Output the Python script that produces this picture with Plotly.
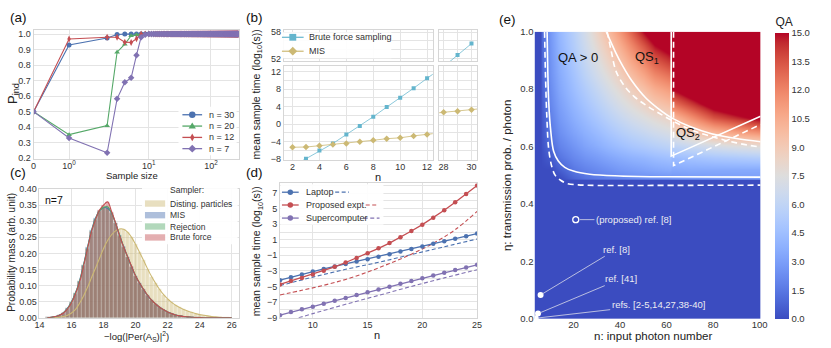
import math
import plotly.graph_objects as go

W, H = 831, 348
FONT = "Liberation Sans, Arial, sans-serif"
TXT = "#333333"
GRID = "#e4e4e4"
EDGE = "#d6d6d6"

# ---------------- (a) data ----------------
a_sizes_head = [0, 1, 3, 4, 5, 6, 7, 8, 9]
a_plateau_sizes = list(range(10, 281))
a_plateau_p = 1.0
a_p30 = [0.50, 0.93, 0.975, 0.997, 1.0, 1.0, 1.0, 1.0, 1.0]
a_p20 = [0.50, 0.352, 0.41, 0.883, 0.935, 0.99, 0.995, 1.0, 1.0]
a_p12 = [0.50, 0.968, 0.98, 0.98, 0.948, 0.946, 0.97, 1.0, 1.0]
a_p7 = [0.50, 0.33, 0.235, 0.583, 0.69, 0.718, 0.864, 0.98, 0.995]
a_names = ["n = 30", "n = 20", "n = 12", "n = 7"]
a_xticks = [0, 1, 10, 100]
a_xticktext = ["0", "10<sup>0</sup>", "10<sup>1</sup>", "10<sup>2</sup>"]
a_yticks = [0.2, 0.3, 0.4, 0.5, 0.6, 0.7, 0.8, 0.9, 1.0]

# ---------------- (b) data ----------------
b_bf_n = [3, 4, 5, 6, 7, 8, 9, 10, 11, 12]
b_bf_t = [-7.85, -6.0, -4.4, -2.35, -0.4, 1.7, 3.9, 6.0, 8.2, 10.45]
b_bf_fit_n = [2.4, 3, 4, 5, 6, 7, 8, 9, 10, 11, 12, 12.5]
b_bf_fit_t = [-8.9, -7.85, -6.0, -4.4, -2.35, -0.4, 1.7, 3.9, 6.0, 8.2, 10.45, 11.55]
b_mis_n = [2, 3, 4, 5, 6, 7, 8, 9, 10, 11, 12]
b_mis_t = [-5.25, -5.2, -4.9, -4.6, -4.4, -4.0, -3.66, -3.3, -3.1, -2.66, -2.37]
b_mis_fit_n = [2, 3, 4, 5, 6, 7, 8, 9, 10, 11, 12, 12.45]
b_mis_fit_t = [-5.25, -5.2, -4.9, -4.6, -4.4, -4.0, -3.66, -3.3, -3.1, -2.66, -2.37, -2.15]
b_bf_r_n = [29, 30]
b_bf_r_t = [52.8, 55.4]
b_bf_r_fit_n = [28.4, 29, 30]
b_bf_r_fit_t = [51.2, 52.8, 55.4]
b_mis_r_n = [28, 29, 30]
b_mis_r_t = [2.7, 2.95, 3.3]
b_mis_r_fit_n = [27.65, 28, 29, 30, 30.4]
b_mis_r_fit_t = [2.6, 2.7, 2.95, 3.3, 3.45]

# ---------------- (c) data ----------------
c_bin_start = 14.5
c_bin_width = 0.25
c_disting = [0.0, 0.0, 0.001, 0.002, 0.004, 0.008, 0.015, 0.026, 0.045, 0.068, 0.095, 0.125,
             0.155, 0.185, 0.215, 0.240, 0.258, 0.270, 0.276, 0.275, 0.266, 0.250, 0.228, 0.203,
             0.178, 0.152, 0.128, 0.107, 0.088, 0.072, 0.059, 0.048, 0.039, 0.032, 0.026, 0.021,
             0.017, 0.013, 0.010, 0.008, 0.006, 0.004, 0.003, 0.002, 0.001, 0.001, 0.0]
c_mis = [0.001, 0.002, 0.004, 0.009, 0.016, 0.030, 0.050, 0.078, 0.115, 0.165, 0.220, 0.272,
         0.310, 0.333, 0.342, 0.340, 0.325, 0.293, 0.256, 0.222, 0.190, 0.158, 0.130, 0.107,
         0.087, 0.069, 0.055, 0.043, 0.033, 0.025, 0.018, 0.013, 0.009, 0.006, 0.004, 0.003,
         0.002, 0.001, 0.001, 0.0, 0.0, 0.0, 0.0, 0.0, 0.0, 0.0, 0.0]
c_rejection = [0.001, 0.002, 0.004, 0.008, 0.016, 0.029, 0.049, 0.077, 0.113, 0.163, 0.218, 0.270,
               0.308, 0.333, 0.343, 0.345, 0.326, 0.294, 0.257, 0.221, 0.189, 0.159, 0.131, 0.108,
               0.088, 0.070, 0.055, 0.043, 0.033, 0.025, 0.018, 0.013, 0.009, 0.006, 0.004, 0.003,
               0.002, 0.001, 0.001, 0.0, 0.0, 0.0, 0.0, 0.0, 0.0, 0.0, 0.0]
c_brute = [0.001, 0.002, 0.004, 0.008, 0.015, 0.028, 0.047, 0.075, 0.110, 0.160, 0.215, 0.268,
           0.305, 0.335, 0.350, 0.360, 0.330, 0.295, 0.255, 0.220, 0.190, 0.160, 0.130, 0.108,
           0.088, 0.070, 0.055, 0.043, 0.033, 0.025, 0.018, 0.013, 0.009, 0.006, 0.004, 0.003,
           0.002, 0.001, 0.001, 0.0, 0.0, 0.0, 0.0, 0.0, 0.0, 0.0, 0.0]
c_bins = [c_bin_start + c_bin_width * i for i in range(len(c_brute))]
c_names = ["Disting. particles", "MIS", "Rejection", "Brute force"]

# ---------------- (d) data ----------------
d_n = list(range(7, 26))
d_laptop = [-4.2, -3.82, -3.45, -3.08, -2.75, -2.42, -2.1, -1.8, -1.5, -1.18, -0.85, -0.52,
            -0.18, 0.15, 0.48, 0.8, 1.14, 1.47, 1.8]
d_proposed = [-4.75, -4.3, -3.9, -3.46, -2.98, -2.47, -1.92, -1.33, -0.72, -0.1, 0.58, 1.33,
              2.13, 2.95, 3.85, 4.8, 5.82, 6.9, 8.0]
d_super = [-8.7, -8.3, -7.95, -7.6, -7.22, -6.85, -6.48, -6.1, -5.75, -5.4, -5.03, -4.67,
           -4.3, -3.95, -3.6, -3.25, -2.9, -2.56, -2.22]
d_laptop_dash_n = [7, 10, 13, 16, 19, 22, 25]
d_laptop_dash = [-4.9, -3.8, -2.8, -1.9, -0.9, 0.1, 1.1]
d_prop_dash_n = [7, 9, 11, 13, 15, 17, 19, 21, 23, 25]
d_prop_dash = [-6.1, -5.5, -4.85, -4.1, -3.15, -2.05, -0.85, 0.55, 2.3, 4.65]
d_super_dash_n = [7, 10, 13, 16, 19, 22, 25]
d_super_dash = [-9.75, -8.5, -7.3, -6.15, -5.0, -3.9, -2.85]
d_names = ["Laptop", "Proposed expt.", "Supercomputer"]

# ---------------- (e) data ----------------
e_n = [3.3, 5.8, 6.1, 8, 10, 14, 20, 25, 30, 35, 40, 45, 50, 55, 62, 62.3, 70, 80, 90, 100.4]
e_eta = [0.0, 0.485, 0.49, 0.52, 0.56, 0.6, 0.65, 0.7, 0.75, 0.8, 0.85, 0.9, 0.95, 1.0]
e_qa = [
    [0, 0, 0, 0, 0, 0, 0, 0, 0, 0, 0, 0, 0, 0, 0, 0, 0, 0, 0, 0],
    [0, 0, 0, 0, 0, 0, 0, 0, 0, 0, 0, 0, 0, 0, 0, 0, 0, 0, 0, 0],
    [0, 0, 0, 0, 0, 0, 0.8, 1.3, 1.6, 1.8, 2.0, 2.2, 2.3, 2.4, 2.5, 2.6, 2.7, 2.8, 2.9, 3.0],
    [0, 0, 0, 0, 0, 0.6, 1.5, 1.9, 2.2, 2.5, 2.8, 3.0, 3.2, 3.4, 3.6, 3.4, 3.5, 3.5, 3.5, 3.5],
    [0, 0, 0.1, 0.3, 0.5, 1.4, 2.1, 2.6, 2.9, 3.3, 3.6, 3.9, 4.1, 4.4, 4.7, 4.4, 4.7, 5.0, 5.2, 5.4],
    [0, 0, 0.2, 0.6, 1.0, 1.9, 2.6, 3.2, 3.6, 4.1, 4.5, 4.9, 5.2, 5.5, 5.9, 5.8, 6.3, 6.9, 7.3, 7.6],
    [0, 0, 0.3, 0.8, 1.5, 2.4, 3.2, 3.8, 4.3, 4.9, 5.4, 5.9, 6.3, 6.7, 7.2, 7.8, 8.8, 10.0, 10.8, 11.5],
    [0, 0, 0.4, 1.0, 1.8, 2.8, 3.7, 4.4, 5.0, 5.7, 6.3, 6.9, 7.4, 7.9, 8.5, 9.8, 11.4, 13.5, 14.5, 15.5],
    [0, 0, 0.5, 1.2, 2.1, 3.1, 4.1, 4.9, 5.6, 6.4, 7.1, 7.8, 8.5, 9.2, 9.9, 12.5, 14.0, 16.0, 17.0, 18.0],
    [0, 0, 0.6, 1.4, 2.3, 3.4, 4.5, 5.4, 6.2, 7.1, 7.9, 8.8, 9.6, 10.5, 11.3, 15.0, 16.5, 18.0, 19.0, 20.0],
    [0, 0, 0.7, 1.6, 2.5, 3.6, 4.8, 5.9, 6.8, 7.8, 8.7, 9.8, 10.8, 11.9, 12.8, 17.0, 18.0, 19.0, 20.0, 21.0],
    [0, 0, 0.8, 1.7, 2.6, 3.8, 5.1, 6.3, 7.3, 8.5, 9.5, 10.8, 12.0, 13.3, 14.4, 19.0, 20.0, 21.0, 22.0, 23.0],
    [0, 0, 0.9, 1.8, 2.7, 4.0, 5.4, 6.7, 7.9, 9.2, 10.4, 11.9, 13.4, 14.9, 16.0, 21.0, 22.0, 23.0, 24.0, 25.0],
    [0, 0, 1.0, 1.9, 2.8, 4.2, 5.6, 7.0, 8.4, 9.9, 11.3, 13.1, 15.0, 16.5, 17.6, 23.0, 24.0, 25.0, 26.0, 27.0],
]
e_qa_pos_n = [8.7, 9.0, 9.4, 10.2, 11.5, 13.5, 16.3, 20, 27, 40, 60, 100.4]
e_qa_pos_eta = [1.0, 0.86, 0.753, 0.66, 0.584, 0.55, 0.528, 0.515, 0.504, 0.498, 0.495, 0.494]
e_qa_pos2_n = [7.6, 8.0, 8.6, 9.4, 10.8, 12.2, 14.5, 17.2, 22, 30, 50, 100.4]
e_qa_pos2_eta = [1.0, 0.85, 0.70, 0.59, 0.528, 0.50, 0.483, 0.472, 0.467, 0.465, 0.465, 0.466]
e_qs1_n = [34.1, 38, 41.2, 45, 51, 56, 62.2, 70, 79.3, 90, 100.4]
e_qs1_eta = [1.0, 0.93, 0.88, 0.83, 0.77, 0.735, 0.70, 0.67, 0.645, 0.628, 0.617]
e_qs1b_n = [34.5, 36.3, 38.4, 42, 46, 51, 56, 62.5, 70, 79.3, 90, 100.4]
e_qs1b_eta = [1.0, 0.93, 0.86, 0.81, 0.775, 0.745, 0.72, 0.69, 0.66, 0.635, 0.613, 0.598]
e_qs2_n = [62.0, 62.0, 100.4]
e_qs2_eta = [1.0, 0.567, 0.706]
e_qs2b_n = [63.0, 63.0, 100.4]
e_qs2b_eta = [1.0, 0.534, 0.677]
e_ref_n = [3.8, 4.8, 5.9]
e_ref_eta = [0.003, 0.019, 0.084]
e_ref_text = ["refs. [2-5,14,27,38-40]", "ref. [41]", "ref. [8]"]
e_prop_n = [21]
e_prop_eta = [0.346]

coolwarm_rgb = [
    (59, 76, 192), (68, 90, 204), (77, 104, 215), (87, 117, 225), (98, 130, 234),
    (108, 142, 241), (119, 154, 247), (130, 165, 251), (141, 176, 254), (152, 185, 255),
    (163, 194, 255), (174, 201, 253), (184, 208, 249), (194, 213, 244), (204, 217, 238),
    (213, 219, 230), (221, 221, 221), (229, 216, 209), (236, 211, 197), (241, 204, 185),
    (245, 196, 173), (247, 187, 160), (247, 177, 148), (247, 166, 135), (244, 154, 123),
    (241, 141, 111), (236, 127, 99), (229, 112, 88), (222, 96, 77), (213, 80, 66),
    (203, 62, 56), (192, 40, 47), (180, 4, 38)]
coolwarm = [[i / (len(coolwarm_rgb) - 1), "rgb(%d,%d,%d)" % c] for i, c in enumerate(coolwarm_rgb)]

C_BLUE, C_GREEN, C_RED, C_PURPLE = "#4c72b0", "#55a868", "#c44e52", "#8172b2"
C_GOLD, C_CYAN = "#ccb974", "#64b5cd"


def px(x):
    return x / W


def py(y):
    return 1 - y / H


def sx(v):
    # symmetric-log style scale of panel (a): linear below 1, log above
    if v <= 1:
        return v
    if v <= 10:
        return 1 + 2.25 * math.log10(v)
    return 3.25 + 1.75 * (math.log10(v) - 1)


fig = go.Figure()

# ---------------- (a) traces ----------------
a_styles = [(a_p30, C_BLUE, "circle"), (a_p20, C_GREEN, "triangle-up"),
            (a_p12, C_RED, "diamond-tall"), (a_p7, C_PURPLE, "diamond")]
for (vals, col, sym), name in zip(a_styles, a_names):
    xs = [sx(v) for v in a_sizes_head + a_plateau_sizes]
    ys = vals + [a_plateau_p] * len(a_plateau_sizes)
    fig.add_trace(go.Scatter(x=xs, y=ys, mode="lines+markers", name=name,
                             line=dict(color=col, width=1.1),
                             marker=dict(symbol=sym, size=5, color=col),
                             xaxis="x", yaxis="y", showlegend=False))

# ---------------- (b) traces ----------------
fig.add_trace(go.Scatter(x=b_bf_fit_n, y=b_bf_fit_t, mode="lines", line=dict(color="rgba(100,181,205,0.75)", width=1),
                         xaxis="x2", yaxis="y2", showlegend=False))
fig.add_trace(go.Scatter(x=b_mis_fit_n, y=b_mis_fit_t, mode="lines", line=dict(color="rgba(204,185,116,0.8)", width=1),
                         xaxis="x2", yaxis="y2", showlegend=False))
fig.add_trace(go.Scatter(x=b_bf_n, y=b_bf_t, mode="markers", name="Brute force sampling",
                         marker=dict(symbol="square", size=4, color=C_CYAN), xaxis="x2", yaxis="y2", showlegend=False))
fig.add_trace(go.Scatter(x=b_mis_n, y=b_mis_t, mode="markers", name="MIS",
                         marker=dict(symbol="diamond", size=5, color=C_GOLD), xaxis="x2", yaxis="y2", showlegend=False))
fig.add_trace(go.Scatter(x=[], y=[], xaxis="x3", yaxis="y3", showlegend=False))
fig.add_trace(go.Scatter(x=b_mis_r_fit_n, y=b_mis_r_fit_t, mode="lines", line=dict(color="rgba(204,185,116,0.8)", width=1),
                         xaxis="x4", yaxis="y4", showlegend=False))
fig.add_trace(go.Scatter(x=b_mis_r_n, y=b_mis_r_t, mode="markers",
                         marker=dict(symbol="diamond", size=5, color=C_GOLD), xaxis="x4", yaxis="y4", showlegend=False))
fig.add_trace(go.Scatter(x=b_bf_r_fit_n, y=b_bf_r_fit_t, mode="lines", line=dict(color="rgba(100,181,205,0.75)", width=1),
                         xaxis="x5", yaxis="y5", showlegend=False))
fig.add_trace(go.Scatter(x=b_bf_r_n, y=b_bf_r_t, mode="markers",
                         marker=dict(symbol="square", size=4, color=C_CYAN), xaxis="x5", yaxis="y5", showlegend=False))

# ---------------- (c) traces ----------------
c_sets = [(c_disting, C_GOLD), (c_mis, C_BLUE), (c_rejection, C_GREEN), (c_brute, C_RED)]
for (vals, col), name in zip(c_sets, c_names):
    fig.add_trace(go.Bar(x=c_bins, y=vals, width=c_bin_width, name=name, opacity=0.45,
                         marker=dict(color=col, line=dict(color="rgba(255,255,255,0.5)", width=0.4)),
                         xaxis="x6", yaxis="y6", showlegend=False))
for (vals, col), name in zip(c_sets, c_names):
    fig.add_trace(go.Scatter(x=c_bins, y=vals, mode="lines", line=dict(color=col, width=1.1, shape="spline"),
                             xaxis="x6", yaxis="y6", showlegend=False))

# ---------------- (d) traces ----------------
d_dash_sets = [(d_laptop_dash_n, d_laptop_dash, C_BLUE), (d_prop_dash_n, d_prop_dash, C_RED),
               (d_super_dash_n, d_super_dash, C_PURPLE)]
for xs, ys, col in d_dash_sets:
    fig.add_trace(go.Scatter(x=xs, y=ys, mode="lines", line=dict(color=col, width=1.1, dash="4px,2.5px", shape="spline"),
                             xaxis="x7", yaxis="y7", showlegend=False))
for ys, col, name in zip([d_laptop, d_proposed, d_super], [C_BLUE, C_RED, C_PURPLE], d_names):
    fig.add_trace(go.Scatter(x=d_n, y=ys, mode="lines+markers", name=name, line=dict(color=col, width=1.3),
                             marker=dict(size=4.5, color=col), xaxis="x7", yaxis="y7", showlegend=False))

# ---------------- (e) traces ----------------
fig.add_trace(go.Heatmap(x=e_n, y=e_eta, z=e_qa, zmin=0, zmax=15, colorscale=coolwarm, zsmooth="best",
                         xaxis="x8", yaxis="y8",
                         colorbar=dict(x=781.7 / W, xanchor="left", y=py((8 + 323.3) / 2), yanchor="middle",
                                       len=(323.3 - 8) / H, ypad=0, xpad=0, thickness=14, outlinewidth=0,
                                       tick0=0, dtick=1.5, tickformat=".1f", ticks="",
                                       tickfont=dict(size=9.5, color=TXT, family=FONT),
                                       title=dict(text="QA", side="top", font=dict(size=12, color="#222", family=FONT)))))
e_lines = [(e_qa_pos_n, e_qa_pos_eta, "solid"), (e_qa_pos2_n, e_qa_pos2_eta, "6px,4px"),
           (e_qs1_n, e_qs1_eta, "solid"), (e_qs1b_n, e_qs1b_eta, "6px,4px"),
           (e_qs2_n, e_qs2_eta, "solid"), (e_qs2b_n, e_qs2b_eta, "6px,4px")]
for xs, ys, dash in e_lines:
    fig.add_trace(go.Scatter(x=xs, y=ys, mode="lines", line=dict(color="white", width=1.6, dash=dash,
                                                                 shape="spline" if len(xs) > 3 else "linear"),
                             xaxis="x8", yaxis="y8", showlegend=False))
fig.add_trace(go.Scatter(x=e_ref_n, y=e_ref_eta, mode="markers", marker=dict(size=6, color="white"),
                         xaxis="x8", yaxis="y8", showlegend=False))
fig.add_trace(go.Scatter(x=e_prop_n, y=e_prop_eta, mode="markers",
                         marker=dict(size=6, symbol="circle-open", color="white", line=dict(width=1.3)),
                         xaxis="x8", yaxis="y8", showlegend=False))

# ---------------- axes ----------------
base = dict(showgrid=True, gridcolor=GRID, gridwidth=1, showline=True, linecolor=EDGE, linewidth=1,
            mirror=True, zeroline=False, ticks="", tickfont=dict(size=9, color=TXT, family=FONT))


def ax(**kw):
    d = dict(base)
    d.update(kw)
    return d


def minor(vals):
    return dict(tickvals=vals, showgrid=True, gridcolor=GRID, gridwidth=1, ticks="")


b_ytick = [-8, -4, 0, 4, 8, 12]
b_yminor = [-6, -2, 2, 6, 10]
d_ytick = [-9, -7, -5, -3, -1, 1, 3, 5, 7]
d_yminor = [-8, -6, -4, -2, 0, 2, 4, 6, 8]
XS = -2  # pull x tick labels slightly towards the axes

layout_axes = dict(
    xaxis=ax(domain=[px(29), px(237)], range=[0, 5.78], anchor="y", ticklabelstandoff=XS,
             tickvals=[sx(v) for v in a_xticks], ticktext=a_xticktext),
    yaxis=ax(domain=[py(158), py(25)], range=[0.195, 1.025], anchor="x",
             tickvals=a_yticks, ticktext=["%.1f" % v for v in a_yticks]),
    xaxis2=ax(domain=[px(283), px(434)], range=[1.36, 12.42], anchor="y2", tickvals=list(range(2, 13, 2)),
              ticklabelstandoff=XS),
    yaxis2=ax(domain=[py(159), py(62)], range=[-8.15, 13.25], anchor="x2", tickvals=b_ytick,
              minor=minor(b_yminor)),
    xaxis3=ax(domain=[px(283), px(434)], range=[1.36, 12.42], anchor="y3", tickvals=list(range(2, 13, 2)),
              showticklabels=False),
    yaxis3=ax(domain=[py(57), py(25)], range=[51.4, 58.44], anchor="x3", tickvals=[52, 58],
              minor=minor([54, 56])),
    xaxis4=ax(domain=[px(440.5), px(479)], range=[27.68, 30.4], anchor="y4", tickvals=[28, 30],
              minor=minor([29]), ticklabelstandoff=XS),
    yaxis4=ax(domain=[py(159), py(62)], range=[-8.15, 13.25], anchor="x4", tickvals=b_ytick,
              minor=minor(b_yminor), showticklabels=False),
    xaxis5=ax(domain=[px(440.5), px(479)], range=[27.68, 30.4], anchor="y5", tickvals=[28, 30],
              minor=minor([29]), showticklabels=False),
    yaxis5=ax(domain=[py(57), py(25)], range=[51.4, 58.44], anchor="x5", tickvals=[52, 58],
              minor=minor([54, 56]), showticklabels=False),
    xaxis6=ax(domain=[px(35), px(237)], range=[14, 26.43], anchor="y6", tickvals=list(range(14, 27, 2)),
              ticklabelstandoff=XS),
    yaxis6=ax(domain=[py(322), py(189)], range=[0, 0.40], anchor="x6",
              tickvals=[i * 0.05 for i in range(9)], ticktext=["%.2f" % (i * 0.05) for i in range(9)]),
    xaxis7=ax(domain=[px(279), px(479)], range=[7, 25], anchor="y7", tickvals=[10, 15, 20, 25],
              ticklabelstandoff=XS),
    yaxis7=ax(domain=[py(322), py(183)], range=[-9.04, 8.28], anchor="x7", tickvals=d_ytick,
              minor=minor(d_yminor)),
    xaxis8=dict(domain=[px(537.3), px(766.7)], range=[3.3, 100.4], anchor="y8", tickvals=[20, 40, 60, 80, 100],
                showgrid=False, zeroline=False, showline=False, ticks="", ticklabelstandoff=XS,
                tickfont=dict(size=9.5, color=TXT, family=FONT)),
    yaxis8=dict(domain=[py(323.3), py(26.5)], range=[0, 1.0], anchor="x8",
                tickvals=[0, 0.2, 0.4, 0.6, 0.8, 1.0], ticktext=["0.0", "0.2", "0.4", "0.6", "0.8", "1.0"],
                showgrid=False, zeroline=False, showline=False, ticks="",
                tickfont=dict(size=9.5, color=TXT, family=FONT)),
)

# ---------------- annotations & manual legends ----------------
ann = []
shapes = []


def text(x, y, t, size=9, color=TXT, xanchor="center", yanchor="middle", angle=0):
    ann.append(dict(x=px(x), y=py(y), xref="paper", yref="paper", text=t, showarrow=False,
                    xanchor=xanchor, yanchor=yanchor, textangle=angle,
                    font=dict(size=size, color=color, family=FONT)))


def seg(x0, y0, x1, y1, color, width=1.2, dash="solid"):
    shapes.append(dict(type="line", xref="paper", yref="paper", x0=px(x0), y0=py(y0), x1=px(x1), y1=py(y1),
                       line=dict(color=color, width=width, dash=dash), layer="above"))


def box(x0, y0, x1, y1, fill="rgba(255,255,255,0.9)", line=None):
    shapes.append(dict(type="rect", xref="paper", yref="paper", x0=px(x0), y0=py(y1), x1=px(x1), y1=py(y0),
                       fillcolor=fill, line=dict(width=0.8 if line else 0, color=line or fill), layer="above"))


def poly(pts, fill):
    path = "M " + " L ".join("%.5f,%.5f" % (px(x), py(y)) for x, y in pts) + " Z"
    shapes.append(dict(type="path", xref="paper", yref="paper", path=path, fillcolor=fill,
                       line=dict(width=0), layer="above"))


def dot(cx, cy, r, fill):
    shapes.append(dict(type="circle", xref="paper", yref="paper", x0=px(cx - r), x1=px(cx + r),
                       y0=py(cy + r), y1=py(cy - r), fillcolor=fill, line=dict(width=0, color=fill), layer="above"))


# panel letters
text(3, 12, "(a)", 13.5, "#111", "left")
text(243, 12, "(b)", 13.5, "#111", "left")
text(3, 172, "(c)", 13.5, "#111", "left")
text(243, 172, "(d)", 13.5, "#111", "left")
text(499, 14, "(e)", 13.5, "#111", "left")

# axis titles
text(8, 90, "P<sub>ind</sub>", 13, "#222", angle=-90)
text(129, 175, "Sample size", 9.5, "#222")
text(256, 91, "mean sample time (log<sub>10</sub>(s))", 10.5, "#222", angle=-90)
text(378, 177, "n", 11, "#222")
text(7, 254, "Probability mass (arb. unit)", 10, "#222", angle=-90)
text(133, 341, "\u2212log(|Per(A<sub>S</sub>)|<sup>2</sup>)", 9.5, "#222")
text(256, 253, "mean sample time (log<sub>10</sub>(s))", 10.5, "#222", angle=-90)
text(377, 340, "n", 11, "#222")
text(510, 175, "\u03b7: transmission prob. / photon", 11.5, "#222", angle=-90)
text(657.5, 340.5, "n: input photon number", 11.5, "#222")

# legend (a)
box(176, 104, 235, 154)
a_rows = [112.3, 124.0, 135.7, 147.3]
for (vals, col, sym), name, ry in zip(a_styles, a_names, a_rows):
    seg(180, ry, 200, ry, col, 1.3)
    if sym == "circle":
        dot(190, ry, 3.3, col)
    elif sym == "triangle-up":
        poly([(190, ry - 3.6), (186.3, ry + 2.6), (193.7, ry + 2.6)], col)
    elif sym == "diamond-tall":
        poly([(190, ry - 4), (192.2, ry), (190, ry + 4), (187.8, ry)], col)
    else:
        poly([(190, ry - 4), (194, ry), (190, ry + 4), (186, ry)], col)
    text(205, ry, name, 9, TXT, "left")

# legend (b)
box(281, 27, 392, 54)
seg(281, 32.3, 303, 32.3, C_CYAN, 1.2)
poly([(288.5, 28.8), (295.5, 28.8), (295.5, 35.8), (288.5, 35.8)], C_CYAN)
text(306.5, 32.3, "Brute force sampling", 9, TXT, "left")
seg(281, 46.7, 303, 46.7, C_GOLD, 1.2)
poly([(292, 42.2), (296.5, 46.7), (292, 51.2), (287.5, 46.7)], C_GOLD)
text(306.5, 46.7, "MIS", 9, TXT, "left")

# legend (c)
box(139, 183, 236, 246)
text(165, 190, "Sampler:", 8.5, TXT, "left")
c_rows = [204, 216, 227.7, 239]
c_patch = ["rgba(204,185,116,0.45)", "rgba(76,114,176,0.45)", "rgba(85,168,104,0.45)", "rgba(196,78,82,0.45)"]
for ry, pc, name in zip(c_rows, c_patch, c_names):
    poly([(142, ry - 3.3), (162.5, ry - 3.3), (162.5, ry + 3.3), (142, ry + 3.3)], pc)
    text(165.5, ry, name, 8.5, TXT, "left")

# legend (d)
box(279.5, 184, 384, 226)
d_rows = [192.3, 205.5, 219]
d_dash_x = [(335, 349), (366, 379), (364, 380)]
for ry, col, name, (dx0, dx1) in zip(d_rows, [C_BLUE, C_RED, C_PURPLE], d_names, d_dash_x):
    seg(281, ry, 298, ry, col, 1.3)
    dot(289.5, ry, 2.8, col)
    text(303, ry, name, 9, TXT, "left")
    seg(dx0, ry, dx1, ry, col, 1.2, "4px,2.5px")

text(50, 200, "n=7", 10.5, "#111")

# panel (e) labels
for xv, yv, t in [(21.8, 0.911, "QA > 0"), (51.6, 0.91, "QS<sub>1</sub>"), (69, 0.646, "QS<sub>2</sub>")]:
    ann.append(dict(x=xv, y=yv, xref="x8", yref="y8", text=t, showarrow=False,
                    font=dict(size=13, color="#111", family=FONT)))
e_offsets = [(122.5, -14.1), (83.4, -35.0), (75.8, -45.7)]
for xv, yv, t, (axo, ayo) in zip(e_ref_n, e_ref_eta, e_ref_text, e_offsets):
    ann.append(dict(x=xv, y=yv, xref="x8", yref="y8", text=t, showarrow=True, arrowhead=0,
                    arrowwidth=0.8, arrowcolor="#d9dbe8", ax=axo, ay=ayo, standoff=2,
                    font=dict(size=9.5, color="#ececf2", family=FONT)))
ann.append(dict(x=e_prop_n[0], y=e_prop_eta[0], xref="x8", yref="y8", text="(proposed) ref. [8]",
                showarrow=True, arrowhead=0, arrowwidth=0.8, arrowcolor="#d9dbe8", ax=58.2, ay=0, standoff=4,
                font=dict(size=9.5, color="#ececf2", family=FONT)))

fig.update_layout(width=W, height=H, margin=dict(l=0, r=0, t=0, b=0),
                  paper_bgcolor="white", plot_bgcolor="white", barmode="overlay", bargap=0,
                  font=dict(family=FONT, size=9, color=TXT), showlegend=False,
                  annotations=ann, shapes=shapes, **layout_axes)

fig.write_html("out.html", config={"displayModeBar": False},
               post_script="document.body.style.margin='0';document.body.style.padding='0';")
